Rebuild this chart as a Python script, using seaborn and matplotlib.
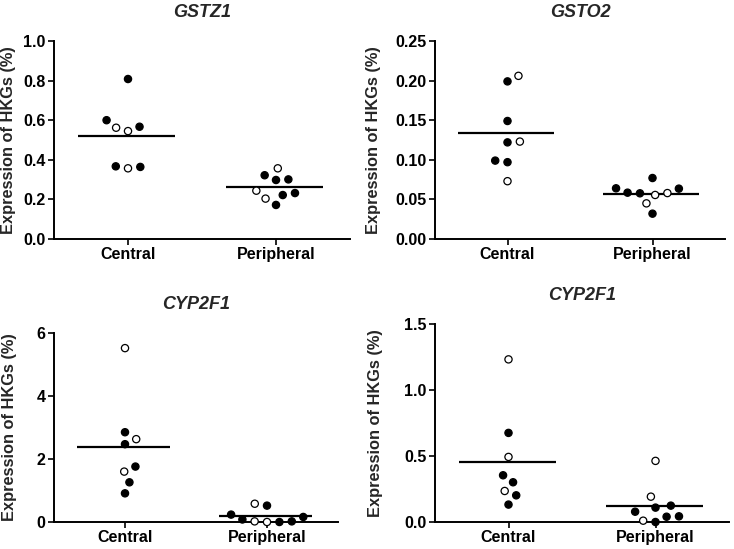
import matplotlib
matplotlib.use("Agg")
import matplotlib.pyplot as plt
from matplotlib.collections import PathCollection
from matplotlib.ticker import FormatStrFormatter
import seaborn as sns
import pandas as pd
import numpy as np

# ---------------- data ----------------
groups = ["Central", "Peripheral"]

gstz1_central = [0.808, 0.600, 0.562, 0.545, 0.567, 0.367, 0.357, 0.364]
gstz1_central_kind = ["filled", "filled", "open", "open", "filled", "filled", "open", "filled"]
gstz1_periph = [0.298, 0.322, 0.357, 0.301, 0.222, 0.244, 0.204, 0.232, 0.172]
gstz1_periph_kind = ["filled", "filled", "open", "filled", "filled", "open", "open", "filled", "filled"]

gsto2_central = [0.199, 0.206, 0.149, 0.122, 0.123, 0.099, 0.097, 0.073]
gsto2_central_kind = ["filled", "open", "filled", "filled", "open", "filled", "filled", "open"]
gsto2_periph = [0.064, 0.0585, 0.058, 0.0556, 0.0577, 0.0636, 0.077, 0.045, 0.032]
gsto2_periph_kind = ["filled", "filled", "open", "open", "filled", "filled", "filled", "open", "filled"]

cyp_a_central = [5.52, 2.85, 2.63, 2.47, 1.76, 1.60, 1.26, 0.91]
cyp_a_central_kind = ["open", "filled", "open", "filled", "filled", "open", "filled", "filled"]
cyp_a_periph = [0.58, 0.52, 0.235, 0.08, 0.02, 0.0, 0.0, 0.02, 0.16]
cyp_a_periph_kind = ["open", "filled", "filled", "filled", "filled", "filled", "open", "open", "filled"]

cyp_b_central = [1.232, 0.675, 0.493, 0.354, 0.301, 0.235, 0.202, 0.132]
cyp_b_central_kind = ["open", "filled", "open", "filled", "filled", "open", "filled", "filled"]
cyp_b_periph = [0.463, 0.192, 0.124, 0.109, 0.078, 0.040, 0.043, 0.0, 0.01]
cyp_b_periph_kind = ["open", "open", "filled", "filled", "filled", "filled", "filled", "filled", "open"]

titles = ["GSTZ1", "GSTO2", "CYP2F1", "CYP2F1"]
ylabel = "Expression of HKGs (%)"
y_ticks = [[0.0, 0.2, 0.4, 0.6, 0.8, 1.0],
           [0.00, 0.05, 0.10, 0.15, 0.20, 0.25],
           [0, 2, 4, 6],
           [0.0, 0.5, 1.0, 1.5]]
y_formats = ["%.1f", "%.2f", "%d", "%.1f"]

# ---------------- style ----------------
sns.set_theme(style="ticks")
plt.rcParams['font.family'] = ['Liberation Sans', 'DejaVu Sans']
plt.rcParams['font.weight'] = 'bold'
plt.rcParams['axes.labelweight'] = 'bold'

W, H = 734, 549
fig = plt.figure(figsize=(W / 100, H / 100), dpi=100)

# pixel boxes: left, right, top, bottom
boxes = [(54, 350, 41, 239), (435, 725, 41, 239),
         (54, 338, 333, 522), (435, 729, 324, 522)]
# y-label right edge (pixels)
label_px = [16, 381, 17, 383]

panels = [
    (gstz1_central, gstz1_central_kind, gstz1_periph, gstz1_periph_kind),
    (gsto2_central, gsto2_central_kind, gsto2_periph, gsto2_periph_kind),
    (cyp_a_central, cyp_a_central_kind, cyp_a_periph, cyp_a_periph_kind),
    (cyp_b_central, cyp_b_central_kind, cyp_b_periph, cyp_b_periph_kind),
]

axes = []
for i, (cv, ck, pv, pk) in enumerate(panels):
    l, r, t, b = boxes[i]
    ax = fig.add_axes([l / W, 1 - b / H, (r - l) / W, (b - t) / H])
    axes.append(ax)
    df = pd.DataFrame({
        "group": [groups[0]] * len(cv) + [groups[1]] * len(pv),
        "value": list(cv) + list(pv),
        "kind": list(ck) + list(pk),
    })
    sns.swarmplot(data=df, x="group", y="value", hue="kind", order=groups,
                  hue_order=["filled", "open"],
                  palette={"filled": "black", "open": "white"},
                  size=7.6, linewidth=0.9, edgecolor="black",
                  legend=False, ax=ax, clip_on=False, zorder=3)
    means = df.groupby("group")["value"].mean().reindex(groups)
    pos = np.arange(len(groups))
    ax.hlines(means.values, pos - 0.34, pos + 0.32, color="black", lw=1.6, zorder=2)

    ax.set_xlim(-0.5, 1.5)
    ax.set_ylim(y_ticks[i][0], y_ticks[i][-1])
    ax.set_yticks(y_ticks[i])
    ax.yaxis.set_major_formatter(FormatStrFormatter(y_formats[i]))
    ax.set_xlabel("")
    ax.set_ylabel(ylabel, fontsize=11.8, fontweight="bold")
    ax.yaxis.set_label_coords((label_px[i] - l) / (r - l), 0.5)
    ax.set_title(titles[i], fontsize=13, fontweight="bold", fontstyle="italic", pad=17)
    ax.tick_params(axis="both", length=4, width=1.2, direction="out",
                   labelsize=11.5, pad=2, color="black", labelcolor="black")
    for lab in ax.get_xticklabels() + ax.get_yticklabels():
        lab.set_fontweight("bold")
    sns.despine(ax=ax)
    for side in ["left", "bottom"]:
        ax.spines[side].set_linewidth(1.4)
        ax.spines[side].set_color("black")

# let seaborn lay out the swarm with a wider footprint, then shrink the markers
fig.canvas.draw()
for ax in axes:
    for c in ax.collections:
        if isinstance(c, PathCollection):
            if "draw" in c.__dict__:
                del c.draw
            c.set_sizes([5.2 ** 2])

fig.savefig("out.png", dpi=100)
